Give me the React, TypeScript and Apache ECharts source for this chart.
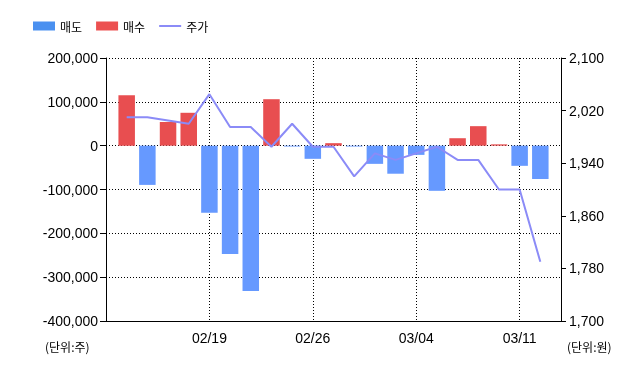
import React, { useEffect, useRef } from "react";
import * as echarts from "echarts";

const dates = ["", "02/13", "02/14", "02/17", "02/18", "02/19", "02/20", "02/21", "02/24", "02/25", "02/26", "02/27", "02/28", "03/02", "03/03", "03/04", "03/05", "03/06", "03/09", "03/10", "03/11", "03/12", ""];
const sellVolume = [null, null, -89500, null, null, -153000, -247000, -331500, null, -2000, -30000, null, -2000, -41500, -64000, -21000, -103000, null, null, null, -46000, -76000, null];
const buyVolume = [null, 115000, null, 54000, 75000, null, null, null, 106000, null, null, 5700, null, null, null, null, null, 17000, 44500, 3000, null, null, null];
const price = [null, 2010, 2010, 2005, 2000, 2045, 1995, 1995, 1965, 2000, 1965, 1965, 1920, 1955, 1945, 1955, 1965, 1945, 1945, 1900, 1900, 1790, null];

const SELL = "#6699ff";
const BUY = "#e84e50";
const LINE = "#8b8bf7";
const NUM_FONT = "'Liberation Sans', Arial, sans-serif";
const KR_FONT = "'Noto Sans CJK KR', sans-serif";

export default function App() {
  const ref = useRef<HTMLDivElement>(null);
  useEffect(() => {
    if (!ref.current) return;
    const chart = echarts.init(ref.current, null, { renderer: "svg" });
    const fmt = (v: number) => v.toLocaleString("en-US");
    chart.setOption({
      animation: false,
      legend: {
        left: 28,
        top: 15,
        itemWidth: 22,
        itemHeight: 9,
        itemGap: 14,
        symbolKeepAspect: true,
        textStyle: { fontFamily: KR_FONT, fontSize: 12, color: "#000" },
        data: [
          { name: "매도", icon: "rect", itemStyle: { color: "#4a90f0" } },
          { name: "매수", icon: "rect", itemStyle: { color: "#ec5050" } },
          { name: "주가", icon: "path://M0,0h22v2h-22z", itemStyle: { color: LINE } },
        ],
      },
      grid: { left: 106, right: 79, top: 58, height: 263, containLabel: false },
      xAxis: {
        type: "category",
        data: dates,
        boundaryGap: false,
        axisLine: { onZero: false, lineStyle: { color: "#000", width: 1 } },
        axisTick: { show: false },
        axisLabel: { interval: 4, margin: 10, fontFamily: NUM_FONT, fontSize: 14, color: "#000" },
        splitLine: { show: true, interval: 4, lineStyle: { color: "#000", type: [1, 2], width: 1 } },
      },
      yAxis: [
        {
          type: "value",
          min: -400000,
          max: 200000,
          interval: 100000,
          axisLine: { show: true, lineStyle: { color: "#000" } },
          axisTick: { show: true, length: 6, lineStyle: { color: "#000" } },
          axisLabel: { formatter: fmt, margin: 8, fontFamily: NUM_FONT, fontSize: 14, color: "#000" },
          splitLine: { show: true, lineStyle: { color: "#000", type: [1, 2], width: 1 } },
        },
        {
          type: "value",
          min: 1700,
          max: 2100,
          interval: 80,
          position: "right",
          axisLine: { show: true, lineStyle: { color: "#000" } },
          axisTick: { show: true, length: 5, lineStyle: { color: "#000" } },
          axisLabel: { formatter: fmt, margin: 8, fontFamily: NUM_FONT, fontSize: 14, color: "#000" },
          splitLine: { show: false },
        },
      ],
      graphic: [
        { type: "text", left: 45, top: 340, style: { text: "(단위:주)", font: `12px ${KR_FONT}`, fill: "#000" } },
        { type: "text", left: 567, top: 340, style: { text: "(단위:원)", font: `12px ${KR_FONT}`, fill: "#000" } },
      ],
      series: [
        { name: "매도", type: "bar", stack: "vol", data: sellVolume, barWidth: 16.5, itemStyle: { color: SELL } },
        { name: "매수", type: "bar", stack: "vol", data: buyVolume, barWidth: 16.5, itemStyle: { color: BUY } },
        {
          name: "주가",
          type: "line",
          yAxisIndex: 1,
          data: price,
          symbol: "none",
          connectNulls: false,
          lineStyle: { color: LINE, width: 2 },
          itemStyle: { color: LINE },
          z: 5,
        },
      ],
    });
    return () => chart.dispose();
  }, []);
  return <div ref={ref} style={{ position: "fixed", left: 0, top: 0, width: 640, height: 368 }} />;
}
